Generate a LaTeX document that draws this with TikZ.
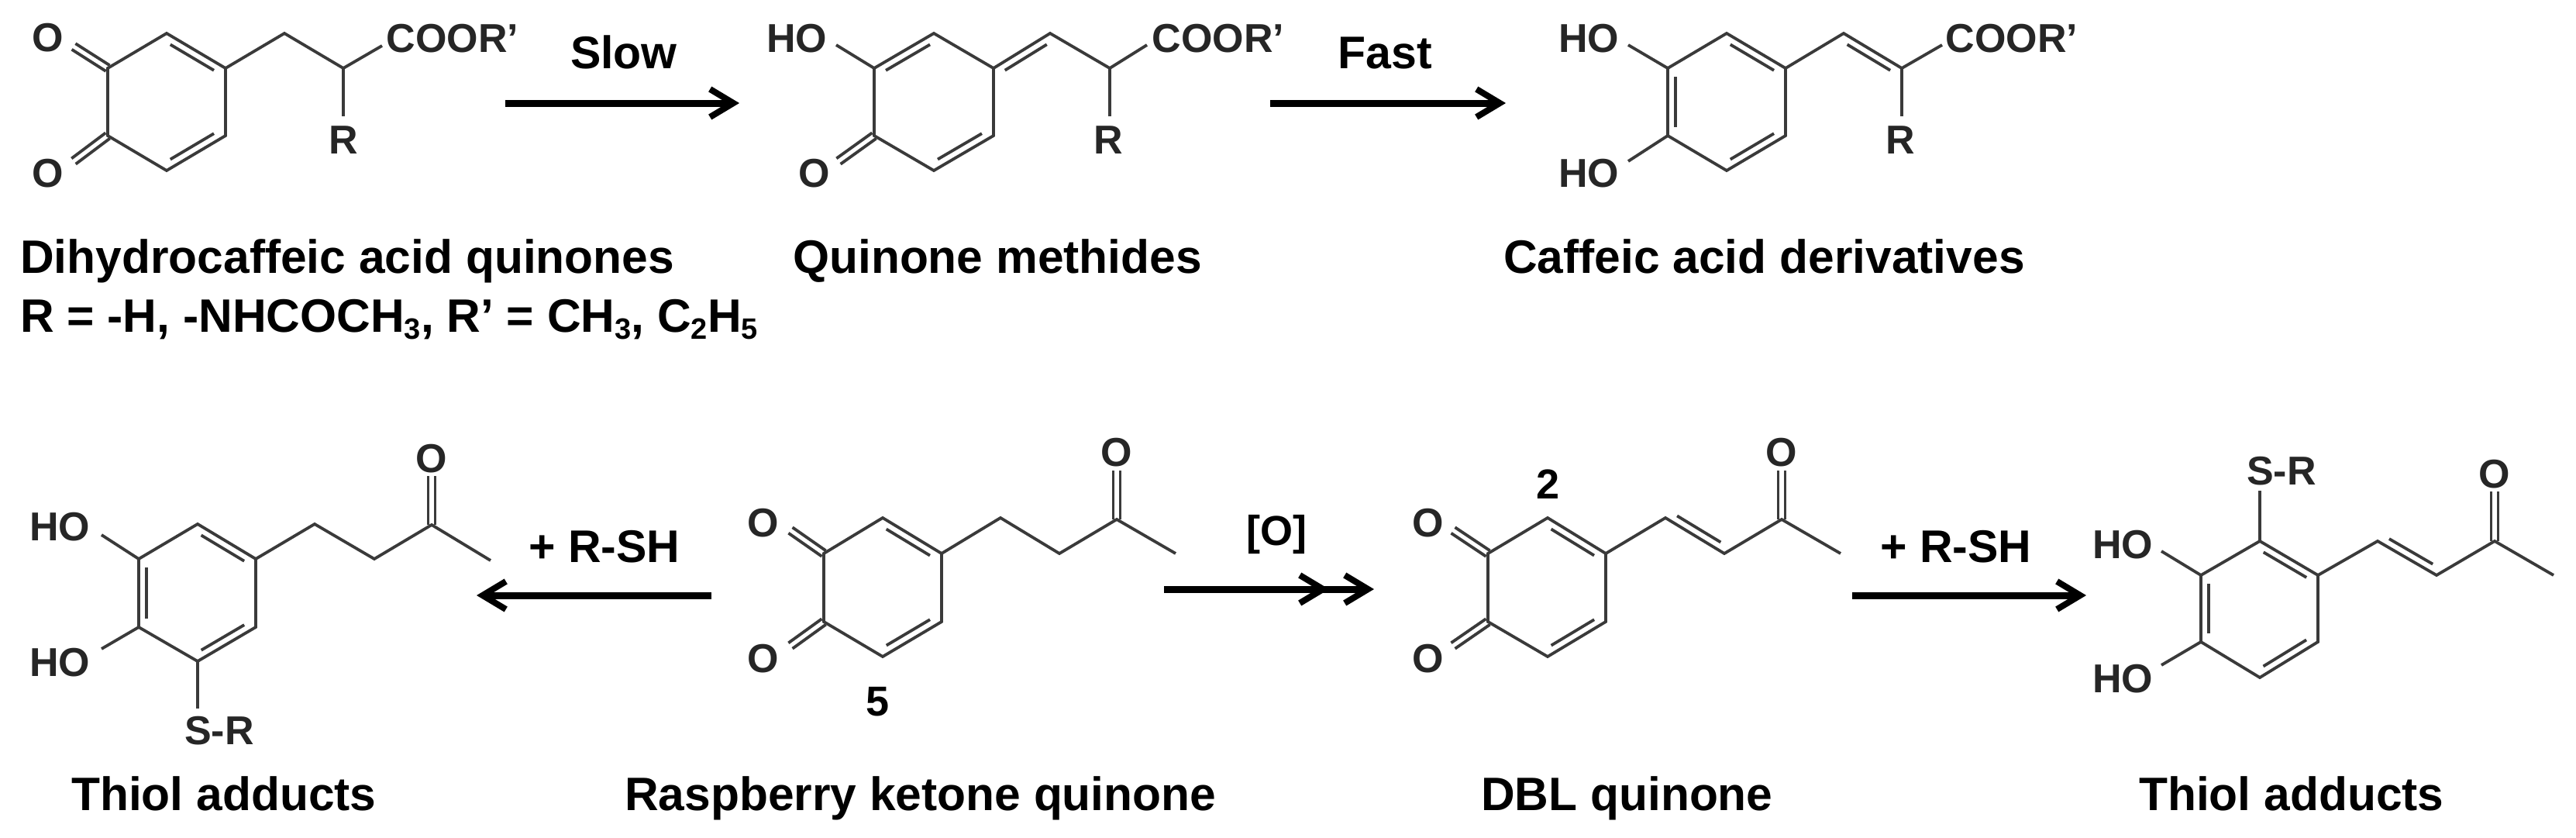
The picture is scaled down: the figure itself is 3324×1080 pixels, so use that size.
\documentclass[tikz,border=0pt]{standalone}
\usepackage{fontspec}
\setmainfont{Liberation Sans}
\usetikzlibrary{calc,arrows.meta}
\definecolor{bondc}{HTML}{3A3A3A}
\newcommand{\lowidx}[1]{\raisebox{-9pt}{\fontsize{38}{40}\selectfont #1}}
% six ring atoms: 1 top, 2 upper right, 3 lower right, 4 bottom, 5 lower left, 6 upper left
\newcommand{\ringat}[8]{%
  \coordinate (#11) at (#3,#5); \coordinate (#12) at (#4,#6);
  \coordinate (#13) at (#4,#7); \coordinate (#14) at (#3,#8);
  \coordinate (#15) at (#2,#7); \coordinate (#16) at (#2,#6);
  \draw[bond] (#11)--(#12)--(#13)--(#14)--(#15)--(#16)--cycle;}
\newcommand{\idbl}[2]{\draw[bond] ($(#1)!.13!(#2)!10pt!-90:(#2)$) -- ($(#2)!.13!(#1)!10pt!90:(#1)$);}
\newcommand{\symd}[2]{%
  \draw[bond] ($(#1)!4.5pt!90:(#2)$) -- ($(#2)!4.5pt!-90:(#1)$);
  \draw[bond] ($(#1)!4.5pt!-90:(#2)$) -- ($(#2)!4.5pt!90:(#1)$);}
\tikzset{
  bond/.style={draw=bondc,line width=3.8pt,line join=miter},
  atom/.style={anchor=base,inner sep=0pt,font=\fontsize{52}{54}\selectfont\bfseries,text=black!85},
  caption/.style={anchor=base west,inner sep=0pt,font=\fontsize{60.5}{63}\selectfont\bfseries,text=black},
  rlabel/.style={anchor=base,inner sep=0pt,font=\fontsize{59}{61}\selectfont\bfseries,text=black},
  numlabel/.style={anchor=base,inner sep=0pt,font=\fontsize{54}{56}\selectfont\bfseries,text=black},
  rxn/.style={draw=black,line width=9pt,-{Straight Barb[length=30pt,width=36pt,line width=8pt]}}
}
\begin{document}
\begin{tikzpicture}[x=1pt,y=-1pt]
\path[use as bounding box,fill=white] (0,0) rectangle (3324,1080);

% --- Dihydrocaffeic acid quinone
\ringat{a}{139}{215}{291}{43}{88}{175}{220}
\idbl{a1}{a2}\idbl{a3}{a4}
\coordinate (ac1) at (367,43); \coordinate (ac2) at (443,88);
\coordinate (ae1) at (493,59); \coordinate (ae2) at (443,150);
\coordinate (aoe1) at (95,60); \coordinate (aoe2) at (95,208);
\draw[bond] (a2)--(ac1)--(ac2)--(ae1); \draw[bond] (ac2)--(ae2);
\symd{a6}{aoe1}\symd{a5}{aoe2}
\node[atom] (aO1) at (62,66) {O};
\node[atom] (aO2) at (62,241) {O};
\node[atom] (aR) at (443,198) {R};
\node[atom] (aCO) at (584,67) {COOR'};

% --- Quinone methide
\ringat{b}{1128}{1205}{1282}{43}{88}{175}{220}
\idbl{b6}{b1}\idbl{b3}{b4}
\coordinate (bc1) at (1355,43); \coordinate (bc2) at (1432,88);
\coordinate (be1) at (1480,58); \coordinate (be2) at (1432,150);
\coordinate (boe1) at (1079,58); \coordinate (boe2) at (1082,208);
\draw[bond] (b2)--(bc1)--(bc2)--(be1); \draw[bond] (bc2)--(be2); \draw[bond] (b6)--(boe1);
\idbl{b2}{bc1}\symd{b5}{boe2}
\node[atom] (bHO) at (1028,67) {HO};
\node[atom] (bO) at (1051,241) {O};
\node[atom] (bR) at (1430,198) {R};
\node[atom] (bCO) at (1572,67) {COOR'};

% --- Caffeic acid derivative
\ringat{c}{2152}{2228}{2304}{43}{88}{175}{220}
\idbl{c1}{c2}\idbl{c3}{c4}\idbl{c5}{c6}
\coordinate (cc1) at (2379,43); \coordinate (cc2) at (2454,88);
\coordinate (ce1) at (2506,58); \coordinate (ce2) at (2454,150);
\coordinate (coe1) at (2101,58); \coordinate (coe2) at (2101,208);
\draw[bond] (c2)--(cc1)--(cc2)--(ce1); \draw[bond] (cc2)--(ce2);
\draw[bond] (c6)--(coe1); \draw[bond] (c5)--(coe2);
\idbl{cc1}{cc2}
\node[atom] (cHO1) at (2050,67) {HO};
\node[atom] (cHO2) at (2050,241) {HO};
\node[atom] (cR) at (2452,198) {R};
\node[atom] (cCO) at (2596,67) {COOR'};

% --- Thiol adduct, left
\ringat{d}{179}{255}{330}{676}{721}{809}{853}
\idbl{d1}{d2}\idbl{d3}{d4}\idbl{d5}{d6}
\coordinate (dc1) at (406,676); \coordinate (dc2) at (483,721);
\coordinate (dc3) at (557,677); \coordinate (de1) at (633,723);
\coordinate (doe) at (557,614); \coordinate (dhe1) at (131,690);
\coordinate (dhe2) at (131,837); \coordinate (dse) at (255,914);
\draw[bond] (d2)--(dc1)--(dc2)--(dc3)--(de1);
\draw[bond] (d6)--(dhe1); \draw[bond] (d5)--(dhe2); \draw[bond] (d4)--(dse);
\symd{dc3}{doe}
\node[atom] (dO) at (557,609) {O};
\node[atom] (dHO1) at (77,697) {HO};
\node[atom] (dHO2) at (77,872) {HO};
\node[atom] (dSR) at (283,960) {S-R};

% --- Raspberry ketone quinone
\ringat{e}{1063}{1139}{1215}{668}{714}{802}{847}
\idbl{e1}{e2}\idbl{e3}{e4}
\coordinate (ec1) at (1291,668); \coordinate (ec2) at (1367,714);
\coordinate (ec3) at (1441,670); \coordinate (ee1) at (1517,714);
\coordinate (eoe) at (1441,607); \coordinate (eoe1) at (1020,684); \coordinate (eoe2) at (1020,833);
\draw[bond] (e2)--(ec1)--(ec2)--(ec3)--(ee1);
\symd{ec3}{eoe}\symd{e6}{eoe1}\symd{e5}{eoe2}
\node[atom] (eO) at (1441,601) {O};
\node[atom] (eO1) at (985,692) {O};
\node[atom] (eO2) at (985,867) {O};
\node[numlabel] (five) at (1133,923) {5};

% --- DBL quinone
\ringat{f}{1920}{1997}{2072}{668}{714}{802}{847}
\idbl{f1}{f2}\idbl{f3}{f4}
\coordinate (fc1) at (2149,668); \coordinate (fc2) at (2225,714);
\coordinate (fc3) at (2299,670); \coordinate (fe1) at (2375,714);
\coordinate (foe) at (2299,607); \coordinate (foe1) at (1875,684); \coordinate (foe2) at (1875,833);
\draw[bond] (f2)--(fc1)--(fc2)--(fc3)--(fe1);
\idbl{fc2}{fc1}\symd{fc3}{foe}\symd{f6}{foe1}\symd{f5}{foe2}
\node[atom] (fO) at (2299,601) {O};
\node[atom] (fO1) at (1843,692) {O};
\node[atom] (fO2) at (1843,867) {O};
\node[numlabel] (two) at (1997,643) {2};

% --- Thiol adduct, right
\ringat{g}{2840}{2916}{2991}{698}{742}{828}{874}
\idbl{g1}{g2}\idbl{g3}{g4}\idbl{g5}{g6}
\coordinate (gc1) at (3068,698); \coordinate (gc2) at (3144,742);
\coordinate (gc3) at (3219,698); \coordinate (ge1) at (3295,742);
\coordinate (goe) at (3219,634); \coordinate (ghe1) at (2789,711);
\coordinate (ghe2) at (2789,858); \coordinate (gse) at (2916,633);
\draw[bond] (g2)--(gc1)--(gc2)--(gc3)--(ge1);
\draw[bond] (g6)--(ghe1); \draw[bond] (g5)--(ghe2); \draw[bond] (g1)--(gse);
\idbl{gc2}{gc1}\symd{gc3}{goe}
\node[atom] (gO) at (3219,629) {O};
\node[atom] (gSR) at (2944,625) {S-R};
\node[atom] (gHO1) at (2739,720) {HO};
\node[atom] (gHO2) at (2739,893) {HO};

% --- Reaction arrows
\coordinate (r1a) at (652,133); \coordinate (r1b) at (954,133);
\coordinate (r2a) at (1639,133); \coordinate (r2b) at (1943,133);
\coordinate (r3a) at (918,768); \coordinate (r3b) at (615,768);
\coordinate (r4a) at (1502,760); \coordinate (r4b) at (1773,760); \coordinate (r4c) at (1715,760);
\coordinate (r5a) at (2390,768); \coordinate (r5b) at (2692,768);
\draw[rxn] (r1a)--(r1b);
\draw[rxn] (r2a)--(r2b);
\draw[rxn] (r3a)--(r3b);
\draw[rxn] (r4a)--(r4b);
\draw[rxn] (r4a)--(r4c);
\draw[rxn] (r5a)--(r5b);

% --- Arrow labels
\node[rlabel] (slow) at (805,88) {Slow};
\node[rlabel] (fast) at (1787,88) {Fast};
\node[rlabel] (rsh1) at (780,725) {+ R-SH};
\node[rlabel] (rsh2) at (2524,725) {+ R-SH};
\node[numlabel] (oxo) at (1647,703) {[O]};

% --- Captions
\node[caption] (cap1) at (26,352) {Dihydrocaffeic acid quinones};
\node[caption] (cap1b) at (26,428) {R = -H, -NHCOCH\lowidx{3}, R’ = CH\lowidx{3}, C\lowidx{2}H\lowidx{5}};
\node[caption] (cap2) at (1023,352) {Quinone methides};
\node[caption] (cap3) at (1940,352) {Caffeic acid derivatives};
\node[caption] (cap4) at (92,1045) {Thiol adducts};
\node[caption] (cap5) at (806,1045) {Raspberry ketone quinone};
\node[caption] (cap6) at (1911,1045) {DBL quinone};
\node[caption] (cap7) at (2760,1045) {Thiol adducts};
\end{tikzpicture}
\end{document}
